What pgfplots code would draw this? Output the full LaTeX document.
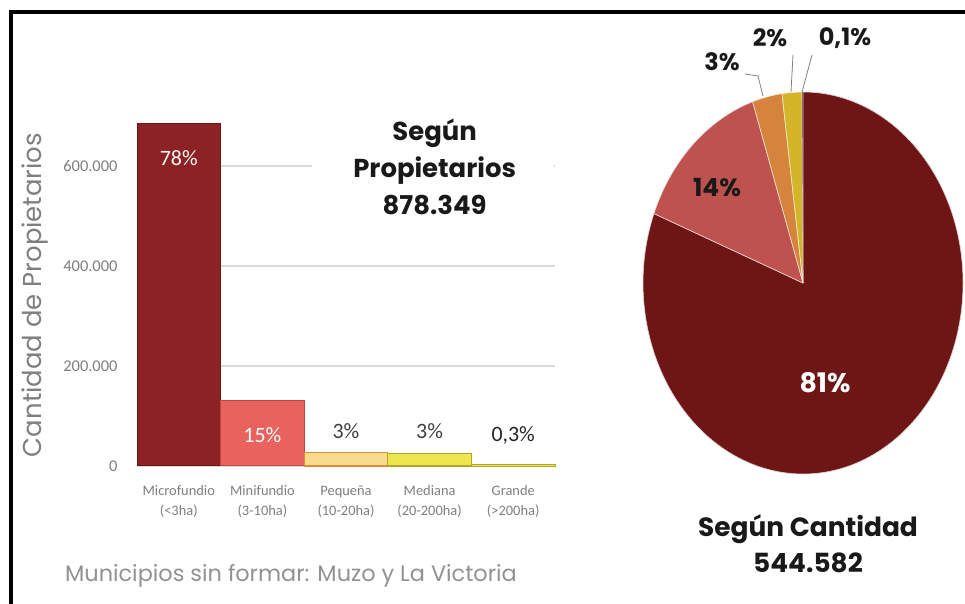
\documentclass[border=0pt]{standalone}
\usepackage{fontspec}
\setmainfont{Poppins}
\newfontfamily\narrow{Carlito}
\usepackage{pgfplots}
\pgfplotsset{compat=1.18}
\definecolor{barA}{HTML}{8C2224}
\definecolor{barAd}{HTML}{6A1416}
\definecolor{barB}{HTML}{E8625E}
\definecolor{barBd}{HTML}{C44442}
\definecolor{barC}{HTML}{F6DC8C}
\definecolor{barCd}{HTML}{E08A3C}
\definecolor{barD}{HTML}{EEE64C}
\definecolor{barDd}{HTML}{B4A428}
\definecolor{pieA}{HTML}{6E1616}
\definecolor{pieB}{HTML}{BE524F}
\definecolor{pieC}{HTML}{D6833C}
\definecolor{pieD}{HTML}{D4B52A}
\definecolor{pieE}{HTML}{8064A2}
\definecolor{txtgray}{HTML}{7F7F7F}
\definecolor{gridgray}{HTML}{D9D9D9}
\begin{document}
\begin{tikzpicture}[x=1bp,y=1bp]
\useasboundingbox (0,0) rectangle (965,604);
\fill[white] (0,0) rectangle (965,604);
\draw[line width=4bp] (11,0) -- (11,592) -- (965,592);

% ---------------- bar chart ----------------
\begin{axis}[
  at={(137bp,138bp)}, anchor=south west,
  scale only axis, width=418bp, height=350bp,
  xmin=-0.5, xmax=4.5, ymin=0, ymax=700000,
  axis x line*=bottom, axis y line*=left,
  x axis line style={-, draw=gridgray, line width=1.2bp},
  y axis line style={draw=none},
  major tick length=0pt,
  ymajorgrids, grid style={gridgray, line width=1.2bp},
  scaled y ticks=false,
  ytick={0,200000,400000,600000},
  yticklabels={0,200.000,400.000,600.000},
  yticklabel style={font=\narrow\fontsize{16.5}{16.5}\selectfont, text=txtgray, xshift=-16bp},
  xtick={0,1,2,3,4},
  xticklabels={Microfundio\\(<3ha), Minifundio\\(3-10ha), Pequeña\\(10-20ha), Mediana\\(20-200ha), Grande\\(>200ha)},
  xticklabel style={font=\narrow\fontsize{14.5}{20}\selectfont, text=txtgray, align=center, yshift=-16bp},
  clip=false,
]
\addplot[ybar, bar width=1, bar shift=0pt, fill=barA, draw=barAd, line width=1bp] coordinates {(0,685000)};
\addplot[ybar, bar width=1, bar shift=0pt, fill=barB, draw=barBd, line width=1bp] coordinates {(1,131750)};
\addplot[ybar, bar width=1, bar shift=0pt, fill=barC, draw=barCd, line width=1.2bp] coordinates {(2,26350)};
\addplot[ybar, bar width=1, bar shift=0pt, fill=barD, draw=barDd, line width=1.2bp] coordinates {(3,25500)};
\addplot[ybar, bar width=1, bar shift=0pt, fill=barD, draw=barDd, line width=0.6bp] coordinates {(4,2600)};
\node[font=\narrow\fontsize{22}{22}\selectfont, text=white!85!pink] at (axis cs:0,616000) {78\%};
\node[font=\narrow\fontsize{22}{22}\selectfont, text=white] at (axis cs:1,62000) {15\%};
\node[font=\narrow\fontsize{22}{22}\selectfont, text=black!75] at (axis cs:2,70000) {3\%};
\node[font=\narrow\fontsize{22}{22}\selectfont, text=black!75] at (axis cs:3,70000) {3\%};
\node[font=\narrow\fontsize{22}{22}\selectfont, text=black!85] at (axis cs:4,62000) {0,3\%};
\node[fill=white, minimum width=242bp, minimum height=30bp, inner sep=0pt] at (axis cs:3.04,598000) {};
\node[font=\bfseries\fontsize{26}{37}\selectfont, align=center, text=black!90] at (axis cs:3.06,598000) {Según\\Propietarios\\878.349};
\end{axis}

\node[rotate=90, font=\fontsize{26}{26}\selectfont, text=txtgray] at (35,309) {Cantidad de Propietarios};
\node[font=\fontsize{22.5}{22.5}\selectfont, text=txtgray!85] at (291,28) {Municipios sin formar: Muzo y La Victoria};

% ---------------- pie chart ----------------
\begin{axis}[
  at={(803bp,321bp)}, anchor=center,
  scale only axis, width=320bp, height=382bp,
  xmin=-1, xmax=1, ymin=-1, ymax=1,
  hide axis, clip=false,
]
% shares: 81, 14, 3, 2, 0.1 (%), clockwise from the top, angle = 360*p/100.1
\fill[pieA, draw=white!80!pieA, line width=0.6bp] (axis cs:0,0) -- (axis cs:0,1) arc[start angle=90, end angle=-201.31, x radius=160bp, y radius=191bp] -- cycle;
\fill[pieB, draw=white!80!pieB, line width=0.6bp] (axis cs:0,0) -- (axis cs:-0.9317,0.3632) arc[start angle=-201.31, end angle=-251.66, x radius=160bp, y radius=191bp] -- cycle;
\fill[pieC, draw=white!80!pieC, line width=0.6bp] (axis cs:0,0) -- (axis cs:-0.3147,0.9492) arc[start angle=-251.66, end angle=-262.45, x radius=160bp, y radius=191bp] -- cycle;
\fill[pieD, draw=white!80!pieD, line width=0.6bp] (axis cs:0,0) -- (axis cs:-0.1314,0.9913) arc[start angle=-262.45, end angle=-269.64, x radius=160bp, y radius=191bp] -- cycle;
\fill[pieE] (axis cs:0,0) -- (axis cs:-0.0063,1) arc[start angle=-269.64, end angle=-270, x radius=160bp, y radius=191bp] -- cycle;
\end{axis}

\node[font=\bfseries\fontsize{27}{27}\selectfont, text=white] at (825,221) {81\%};
\node[font=\bfseries\fontsize{25}{25}\selectfont, text=black!90] at (717,416) {14\%};
\node[font=\bfseries\fontsize{24}{24}\selectfont, text=black!90] at (722,542) {3\%};
\node[font=\bfseries\fontsize{24}{24}\selectfont, text=black!90] at (770,566) {2\%};
\node[font=\bfseries\fontsize{24}{24}\selectfont, text=black!90] at (845,566) {0,1\%};
\draw[gray, line width=0.8bp] (745,530) -- (758,528) -- (763,508);
\draw[gray, line width=0.8bp] (793,549) -- (791,512);
\draw[gray, line width=0.8bp] (812,549) -- (802,512);
\node[font=\bfseries\fontsize{26.5}{36}\selectfont, align=center, text=black!90] at (808,60) {Según Cantidad\\544.582};
\end{tikzpicture}
\end{document}
